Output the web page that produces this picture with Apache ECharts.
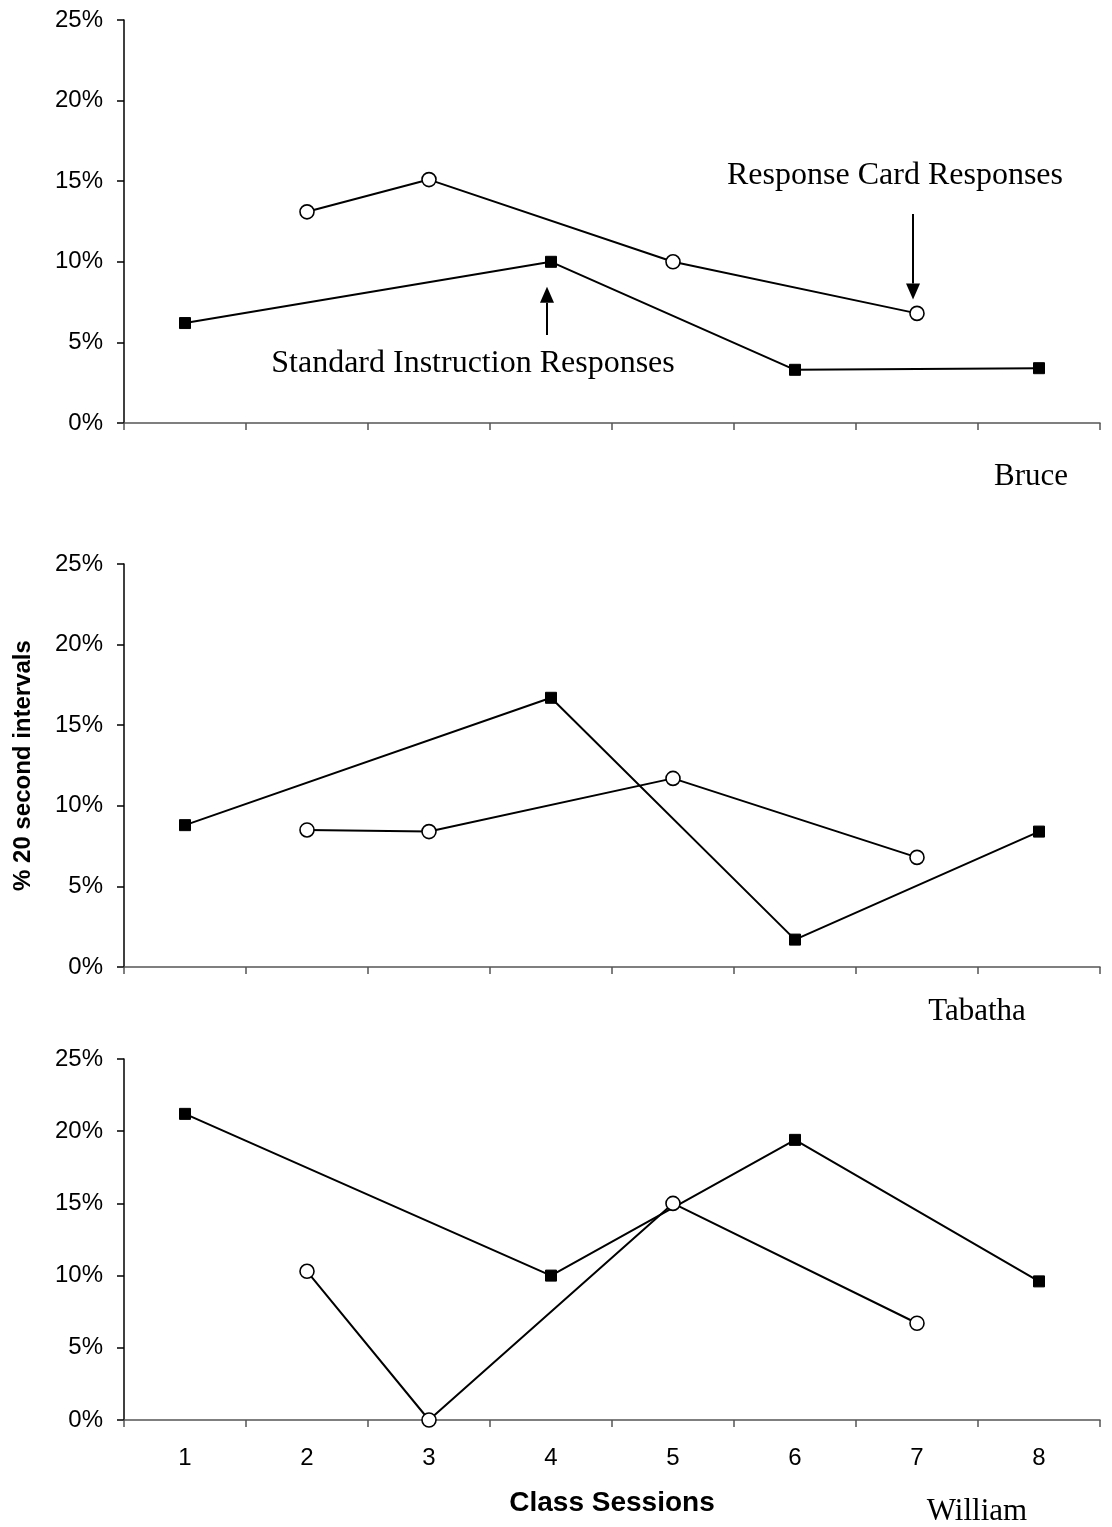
<!DOCTYPE html>
<html>
<head>
<meta charset="utf-8">
<script src="https://cdn.jsdelivr.net/npm/echarts@6/dist/echarts.min.js"></script>
<style>
html,body{margin:0;padding:0;background:#fff;}
#chart{width:1112px;height:1527px;}
</style>
</head>
<body>
<div id="chart"></div>
<script>
// ---- data ----
var sessions = ['1', '2', '3', '4', '5', '6', '7', '8'];
var students = ['Bruce', 'Tabatha', 'William'];
// Standard instruction (filled squares) — sessions 1,4,6,8
var bruceStandard   = [6.2, null, null, 10.0, null, 3.3, null, 3.4];
var tabathaStandard = [8.8, null, null, 16.7, null, 1.7, null, 8.4];
var williamStandard = [21.2, null, null, 10.0, null, 19.4, null, 9.6];
// Response cards (open circles) — sessions 2,3,5,7
var bruceCard   = [null, 13.1, 15.1, null, 10.0, null, 6.8, null];
var tabathaCard = [null, 8.5, 8.4, null, 11.7, null, 6.8, null];
var williamCard = [null, 10.3, 0.0, null, 15.0, null, 6.7, null];
var yTicks = [0, 5, 10, 15, 20, 25];

var standardSets = [bruceStandard, tabathaStandard, williamStandard];
var cardSets = [bruceCard, tabathaCard, williamCard];

var sansFont = '"Liberation Sans", Arial, Helvetica, sans-serif';
var serifFont = '"Liberation Serif", "Times New Roman", serif';

var grids = [
  {left: 124, width: 976, top: 20, height: 403},
  {left: 124, width: 976, top: 564, height: 403},
  {left: 124, width: 976, top: 1059, height: 361}
];

var xAxes = [], yAxes = [], series = [];
for (var i = 0; i < 3; i++) {
  var last = (i === 2);
  xAxes.push({
    type: 'category', gridIndex: i, data: sessions, boundaryGap: true,
    axisLine: {lineStyle: {color: '#555', width: 1.5}},
    axisTick: {show: true, length: 7, inside: false, alignWithLabel: false, lineStyle: {color: '#555', width: 1.5}},
    axisLabel: {show: last, fontFamily: sansFont, fontSize: 24, color: '#000', margin: 26},
    name: last ? 'Class Sessions' : '',
    nameLocation: 'middle', nameGap: 69,
    nameTextStyle: {fontFamily: sansFont, fontSize: 28, fontWeight: 'bold', color: '#000'},
    splitLine: {show: false}
  });
  yAxes.push({
    type: 'value', gridIndex: i, min: yTicks[0], max: yTicks[yTicks.length - 1], interval: 5,
    axisLine: {show: true, lineStyle: {color: '#000', width: 1.5}},
    axisTick: {show: true, length: 7, lineStyle: {color: '#000', width: 1.5}},
    axisLabel: {fontFamily: sansFont, fontSize: 24, color: '#000', margin: 21, formatter: '{value}%'},
    splitLine: {show: false},
    name: i === 1 ? '% 20 second intervals' : '',
    nameLocation: 'middle', nameRotate: 90, nameGap: 89,
    nameTextStyle: {fontFamily: sansFont, fontSize: 24, fontWeight: 'bold', color: '#000'}
  });
  series.push({
    name: 'Standard Instruction Responses', type: 'line',
    xAxisIndex: i, yAxisIndex: i, data: standardSets[i], connectNulls: true,
    symbol: 'rect', symbolSize: 11, showAllSymbol: true,
    lineStyle: {color: '#000', width: 2},
    itemStyle: {color: '#000', borderColor: '#000'},
    animation: false, z: 3
  });
  series.push({
    name: 'Response Card Responses', type: 'line',
    xAxisIndex: i, yAxisIndex: i, data: cardSets[i], connectNulls: true,
    symbol: 'circle', symbolSize: 14, showAllSymbol: true,
    lineStyle: {color: '#000', width: 2},
    itemStyle: {color: '#fff', borderColor: '#000', borderWidth: 1.6},
    animation: false, z: 4
  });
}

var chart = echarts.init(document.getElementById('chart'), null, {renderer: 'canvas'});
chart.setOption({
  backgroundColor: '#fff',
  animation: false,
  grid: grids,
  xAxis: xAxes,
  yAxis: yAxes,
  series: series
});

// annotations anchored to data points
function px(gridIdx, xCat, yVal) {
  return chart.convertToPixel({xAxisIndex: gridIdx, yAxisIndex: gridIdx}, [xCat, yVal]);
}
var pCard = px(0, '7', bruceCard[6]);
var pStd = px(0, '4', bruceStandard[3]);
function arrow(x, yTail, yTip) {
  var dir = yTip > yTail ? 1 : -1;
  var baseY = yTip - dir * 16;
  return [
    {type: 'line', shape: {x1: x, y1: yTail, x2: x, y2: baseY}, style: {stroke: '#000', lineWidth: 2}},
    {type: 'polygon', shape: {points: [[x - 7, baseY], [x + 7, baseY], [x, yTip]]}, style: {fill: '#000'}}
  ];
}
var g = [];
g = g.concat(arrow(pCard[0] - 4, 214, pCard[1] - 14));
g = g.concat(arrow(pStd[0] - 4, 335, pStd[1] + 25));
g.push({type: 'text', x: 895, y: 176, style: {text: 'Response Card Responses', font: '32px ' + serifFont, fill: '#000', textAlign: 'center', textVerticalAlign: 'middle'}});
g.push({type: 'text', x: 473, y: 364, style: {text: 'Standard Instruction Responses', font: '32px ' + serifFont, fill: '#000', textAlign: 'center', textVerticalAlign: 'middle'}});
g.push({type: 'text', x: 1031, y: 477, style: {text: students[0], font: '31px ' + serifFont, fill: '#000', textAlign: 'center', textVerticalAlign: 'middle'}});
g.push({type: 'text', x: 977, y: 1012, style: {text: students[1], font: '31px ' + serifFont, fill: '#000', textAlign: 'center', textVerticalAlign: 'middle'}});
g.push({type: 'text', x: 977, y: 1512, style: {text: students[2], font: '31px ' + serifFont, fill: '#000', textAlign: 'center', textVerticalAlign: 'middle'}});
chart.setOption({graphic: g});
</script>
</body>
</html>
